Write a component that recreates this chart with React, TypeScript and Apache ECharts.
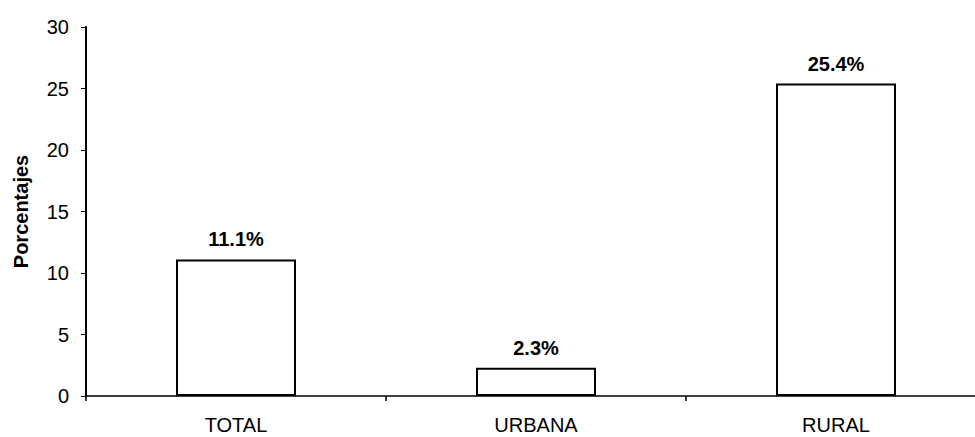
import React, { useEffect, useRef } from "react";
import * as echarts from "echarts";

const categories = ["TOTAL", "URBANA", "RURAL"];
const values = [11.1, 2.3, 25.4];
const yTicks = [0, 5, 10, 15, 20, 25, 30];
const yAxisTitle = "Porcentajes";

const FONT = "Liberation Sans, Arial, sans-serif";

export default function App() {
  const ref = useRef<HTMLDivElement>(null);

  useEffect(() => {
    if (!ref.current) return;
    const chart = echarts.init(ref.current, undefined, { renderer: "svg" });
    chart.setOption({
      animation: false,
      backgroundColor: "#ffffff",
      // the plot area runs past the visible right edge, so the last category is cut off
      grid: { left: 86, top: 27, right: 14, bottom: 41, containLabel: false },
      xAxis: {
        type: "category",
        data: categories,
        axisLine: { show: true, lineStyle: { color: "#000", width: 1.5 } },
        axisTick: { show: true, length: 5, lineStyle: { color: "#000", width: 1.5 } },
        axisLabel: {
          color: "#000",
          fontFamily: FONT,
          fontSize: 20,
          margin: 19,
        },
      },
      yAxis: {
        type: "value",
        min: yTicks[0],
        max: yTicks[yTicks.length - 1],
        interval: 5,
        name: yAxisTitle,
        nameLocation: "middle",
        nameGap: 55,
        nameTextStyle: {
          color: "#000",
          fontFamily: FONT,
          fontSize: 20,
          fontWeight: "bold",
        },
        splitLine: { show: false },
        axisLine: { show: true, lineStyle: { color: "#000", width: 2 } },
        axisTick: { show: true, length: 5, lineStyle: { color: "#000", width: 1 } },
        axisLabel: {
          color: "#000",
          fontFamily: FONT,
          fontSize: 20,
          margin: 17,
        },
      },
      series: [
        {
          type: "bar",
          data: values,
          barWidth: "40%",
          itemStyle: { color: "#ffffff", borderColor: "#000", borderWidth: 2 },
          label: {
            show: true,
            position: "top",
            distance: 10,
            formatter: (p: any) => `${p.value}%`,
            color: "#000",
            fontFamily: FONT,
            fontSize: 20,
            fontWeight: "bold",
          },
        },
      ],
    });
    return () => chart.dispose();
  }, []);

  return (
    <div
      style={{
        position: "fixed",
        left: 0,
        top: 0,
        width: 975,
        height: 437,
        overflow: "hidden",
        background: "#fff",
      }}
    >
      <div ref={ref} style={{ width: 1000, height: 437 }} />
    </div>
  );
}
